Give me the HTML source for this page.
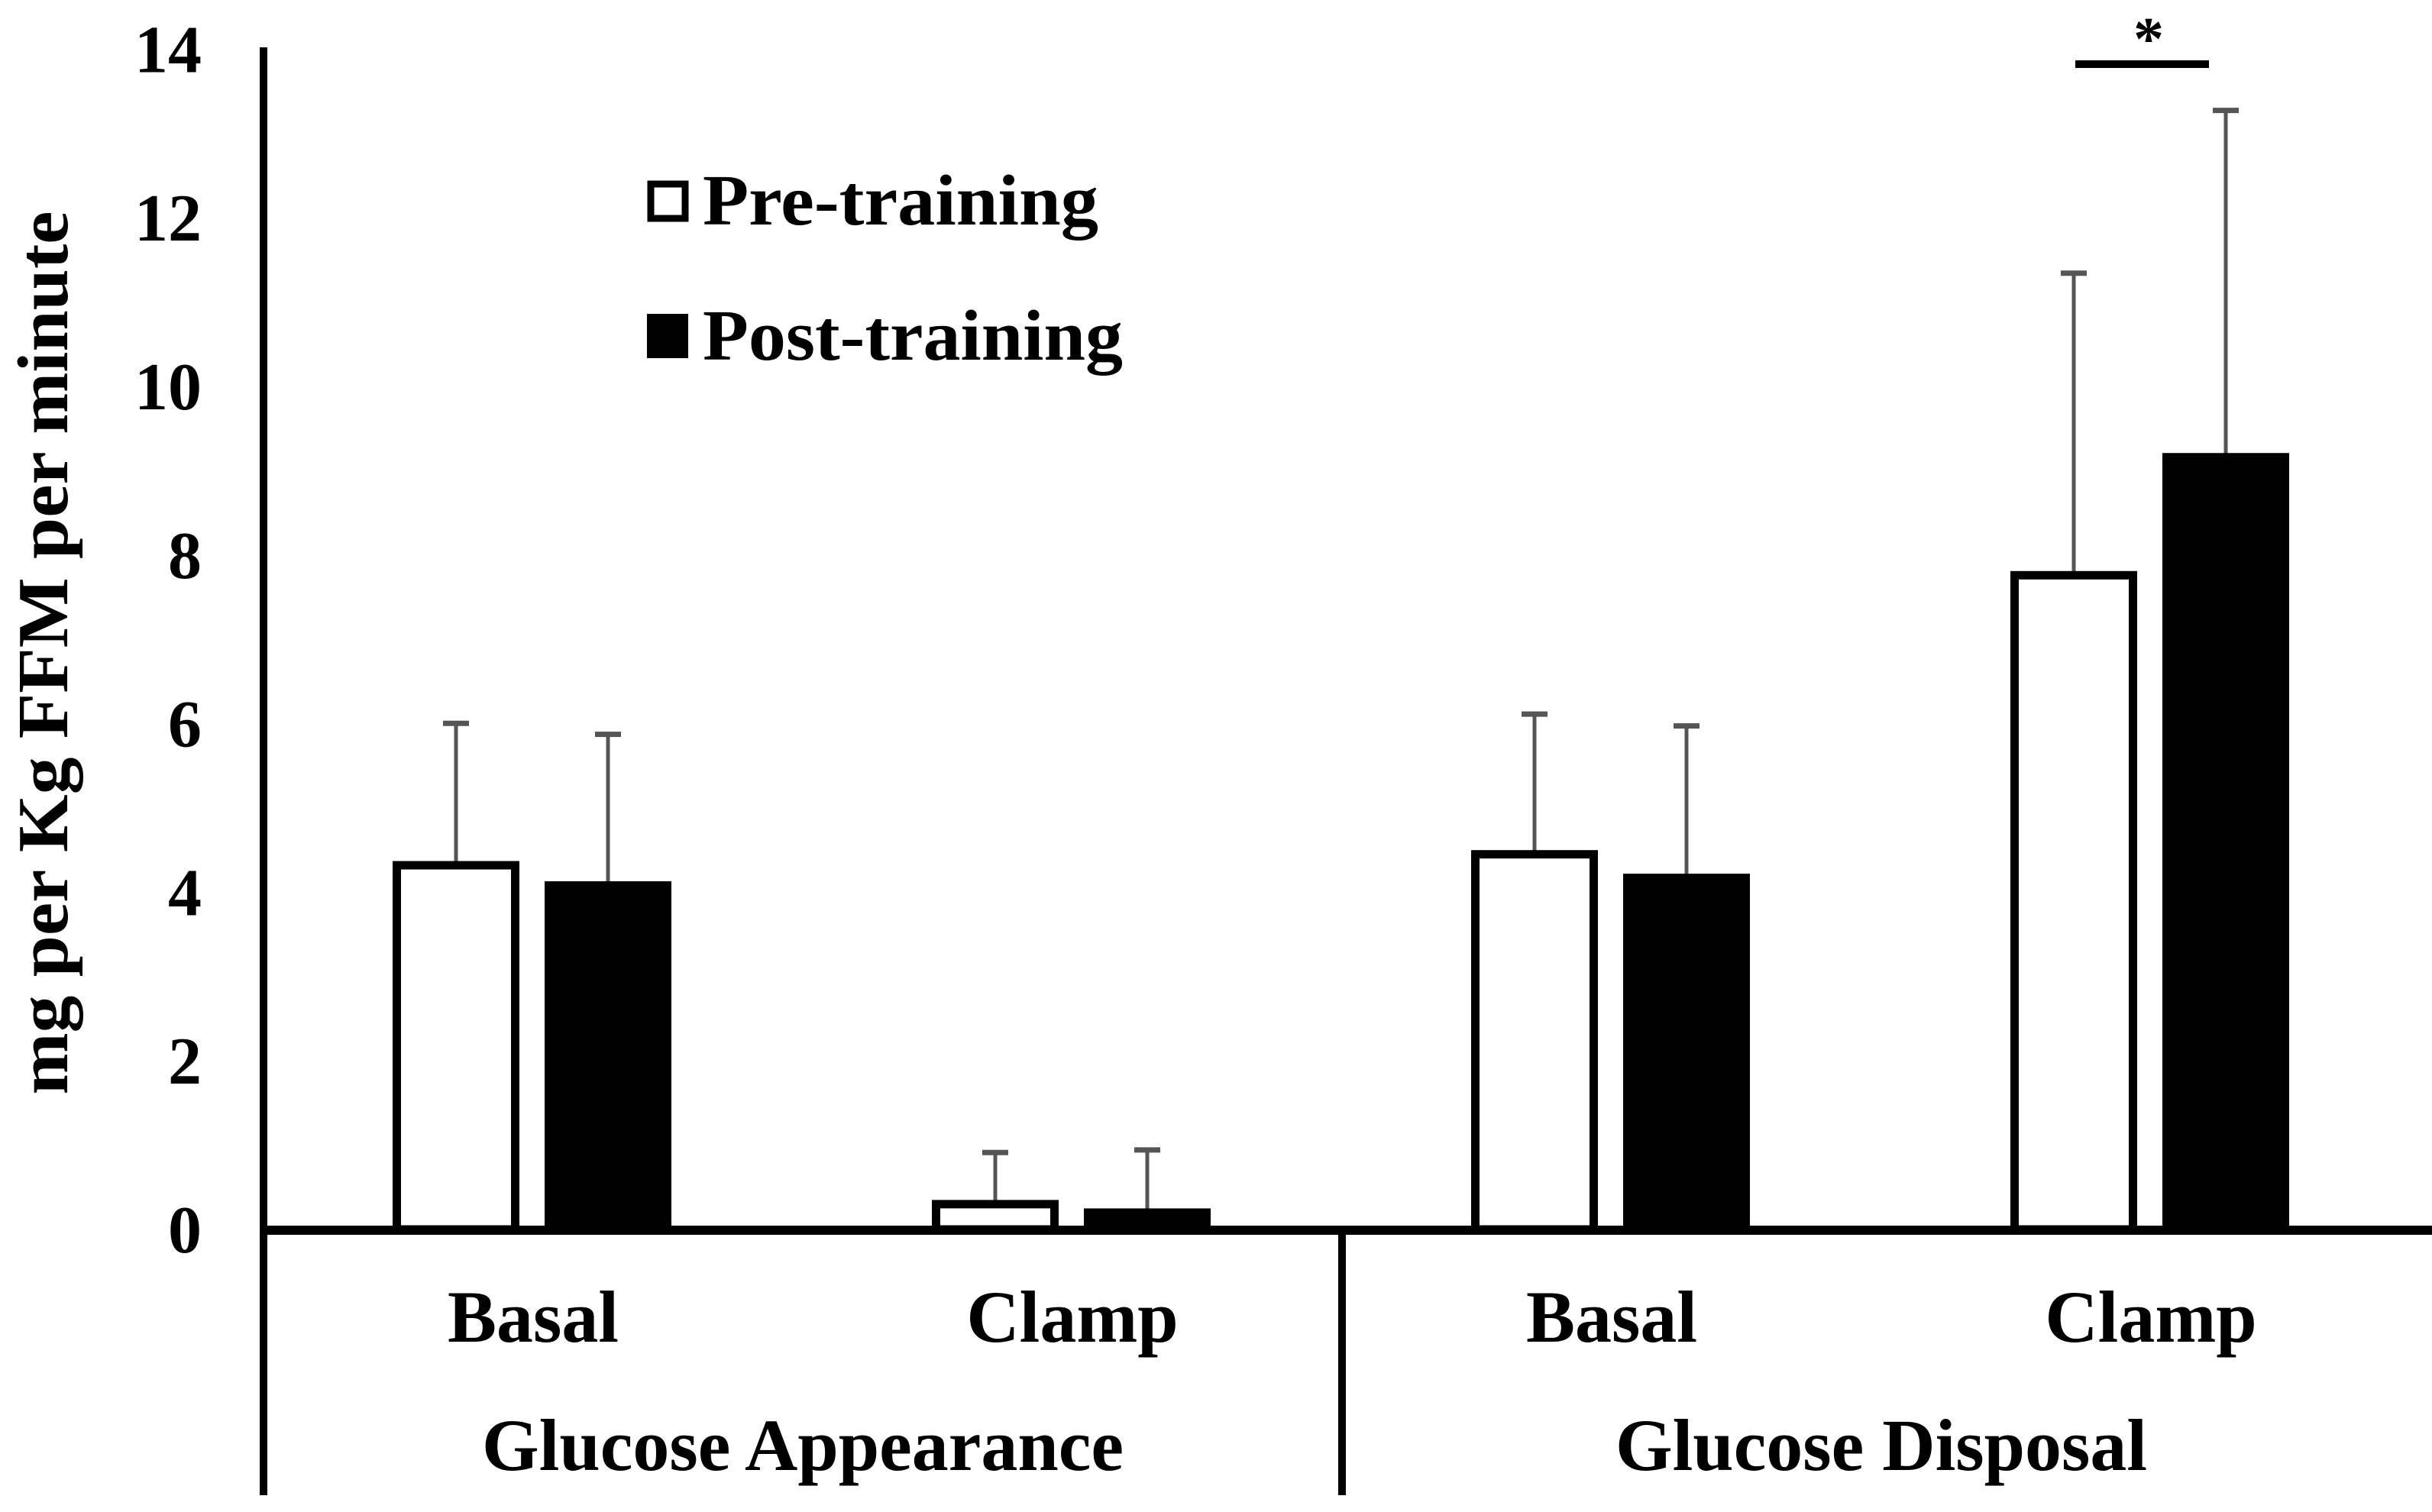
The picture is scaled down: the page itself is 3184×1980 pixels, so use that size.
<!DOCTYPE html>
<html><head><meta charset="utf-8"><style>
html,body{margin:0;padding:0;background:#fff;}
svg{display:block;}
text{font-family:"Liberation Serif",serif;font-weight:bold;fill:#000;}
</style></head><body>
<svg id="chart" width="3184" height="1980" viewBox="0 0 3184 1980" xmlns="http://www.w3.org/2000/svg">
<g id="marks"></g>
</svg>
<script>
const categories = ["Basal", "Clamp", "Basal", "Clamp"];
const groups = ["Glucose Appearance", "Glucose Disposal"];
const preValues = [4.32, 0.30, 4.45, 7.76];
const postValues = [4.08, 0.20, 4.17, 9.16];
const preErrTop = [6.03, 0.94, 6.14, 11.37];
const postErrTop = [5.90, 0.97, 6.00, 13.30];
const yTicks = [0, 2, 4, 6, 8, 10, 12, 14];
const seriesNames = ["Pre-training", "Post-training"];

const NS = "http://www.w3.org/2000/svg";
const g = document.getElementById("marks");
const X0 = 345, CAT_W = 706, Y0 = 1610, PER = 110.4;
function yScale(v){ return Y0 - v * PER; }
function xCenter(i){ return X0 + CAT_W * (i + 0.5); }
function mk(tag, attrs, parent){
  const e = document.createElementNS(NS, tag);
  for (const k in attrs) e.setAttribute(k, attrs[k]);
  (parent || g).appendChild(e);
  return e;
}

yTicks.forEach(t => {
  const e = mk("text", {x: 264, y: yScale(t) + 30, "text-anchor": "end", "font-size": 88});
  e.textContent = t;
  
  
});

const yt = mk("text", {x: 0, y: 0, "text-anchor": "middle", "font-size": 94, transform: "translate(88,855) rotate(-90)", textLength: 1157, lengthAdjust: "spacingAndGlyphs"});
yt.textContent = "mg per Kg FFM per minute";



const BW = 155;
function drawBar(i, v, err, off, filled, name){
  const cx = xCenter(i) + off;
  const eb = mk("line", {x1: cx, x2: cx, y1: yScale(v), y2: yScale(err), stroke: "#555", "stroke-width": 5});
  
  
  const cap = mk("line", {x1: cx - 17, x2: cx + 17, y1: yScale(err) + 3, y2: yScale(err) + 3, stroke: "#555", "stroke-width": 7});
  
  
  const top = yScale(v);
  const r = mk("rect", {x: cx - BW/2, y: top, width: BW, height: Math.max(0, Y0 - top), fill: filled ? "#000" : "#fff", stroke: "#000", "stroke-width": 11});
  
  
}
categories.forEach((c, i) => {
  drawBar(i, preValues[i], preErrTop[i], -101, false, 'bar-pre-' + i);
  drawBar(i, postValues[i], postErrTop[i], 98, true, 'bar-post-' + i);
});

const ya = mk("line", {x1: 345, x2: 345, y1: 62, y2: 1610, stroke: "#000", "stroke-width": 10});


const xa = mk("line", {x1: 340, x2: 3184, y1: 1611, y2: 1611, stroke: "#000", "stroke-width": 12});


[345, X0 + CAT_W * 2].forEach((x, k) => {
  const l = mk("line", {x1: x, x2: x, y1: 1611, y2: 1958, stroke: "#000", "stroke-width": 10});
  
  
});

categories.forEach((c, i) => {
  const e = mk("text", {x: xCenter(i), y: 1757, "text-anchor": "middle", "font-size": 96});
  e.textContent = c;
  
  
});
groups.forEach((gname, k) => {
  const e = mk("text", {x: X0 + CAT_W * (2 * k + 1), y: 1925, "text-anchor": "middle", "font-size": 96});
  e.textContent = gname;
  
  
});

const lp = mk("rect", {x: 852, y: 241, width: 45, height: 45, fill: "#fff", stroke: "#000", "stroke-width": 9});


const lpt = mk("text", {x: 920, y: 294, "font-size": 94, textLength: 518, lengthAdjust: "spacingAndGlyphs"});
lpt.textContent = seriesNames[0];


const lq = mk("rect", {x: 847, y: 411, width: 54, height: 58, fill: "#000"});


const lqt = mk("text", {x: 920, y: 471, "font-size": 94, textLength: 550, lengthAdjust: "spacingAndGlyphs"});
lqt.textContent = seriesNames[1];



const sb = mk("line", {x1: 2717, x2: 2892, y1: 84, y2: 84, stroke: "#000", "stroke-width": 10});


const st = mk("text", {x: 2813, y: 78, "text-anchor": "middle", "font-size": 80});
st.textContent = "*";


</script>
</body></html>
